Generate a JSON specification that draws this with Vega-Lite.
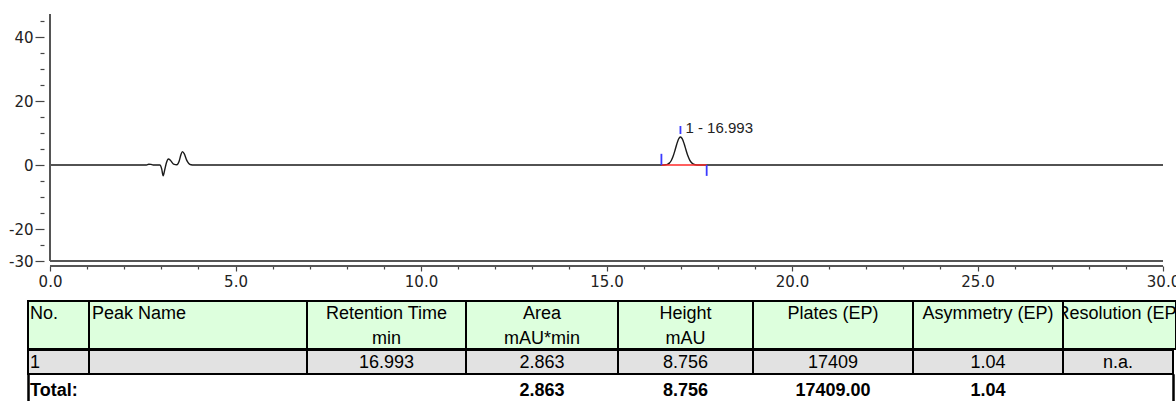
{
  "$schema": "https://vega.github.io/schema/vega-lite/v6.json",
  "padding": {"left": 8, "top": 13, "right": 0, "bottom": 0},
  "background": "white",
  "config": {"view": {"stroke": null}},
  "datasets": {
    "signal": [
      {"t": 0, "mAU": 0}, {"t": 2.6, "mAU": 0}, {"t": 2.66, "mAU": 0.25}, {"t": 2.72, "mAU": 0.2},
      {"t": 2.78, "mAU": 0}, {"t": 2.96, "mAU": 0}, {"t": 3.01, "mAU": -1.2}, {"t": 3.05, "mAU": -3.4},
      {"t": 3.09, "mAU": -1.6}, {"t": 3.14, "mAU": 0.8}, {"t": 3.19, "mAU": 1.9}, {"t": 3.25, "mAU": 1.4},
      {"t": 3.33, "mAU": 0.3}, {"t": 3.42, "mAU": 0.1}, {"t": 3.48, "mAU": 1.2}, {"t": 3.53, "mAU": 3.3},
      {"t": 3.57, "mAU": 4.2}, {"t": 3.62, "mAU": 3.5}, {"t": 3.68, "mAU": 1.6}, {"t": 3.74, "mAU": 0.5},
      {"t": 3.8, "mAU": 0.1}, {"t": 3.88, "mAU": 0}, {"t": 16.4, "mAU": 0}, {"t": 16.493, "mAU": 0.005},
      {"t": 16.593, "mAU": 0.07}, {"t": 16.643, "mAU": 0.22}, {"t": 16.693, "mAU": 0.59}, {"t": 16.743, "mAU": 1.34},
      {"t": 16.793, "mAU": 2.64}, {"t": 16.843, "mAU": 4.45}, {"t": 16.893, "mAU": 6.49}, {"t": 16.943, "mAU": 8.12},
      {"t": 16.993, "mAU": 8.756}, {"t": 17.043, "mAU": 8.17}, {"t": 17.093, "mAU": 6.63}, {"t": 17.143, "mAU": 4.68},
      {"t": 17.193, "mAU": 2.87}, {"t": 17.243, "mAU": 1.54}, {"t": 17.293, "mAU": 0.71}, {"t": 17.343, "mAU": 0.29},
      {"t": 17.393, "mAU": 0.1}, {"t": 17.493, "mAU": 0.01}, {"t": 17.6, "mAU": 0}, {"t": 30, "mAU": 0}
    ],
    "frame": [{"t": 0, "t2": 30, "bottom": -30, "axisLine": -31.5625}],
    "baseline": [{"t": 16.48, "t2": 17.7, "mAU": 0}],
    "delimiters": [
      {"t": 16.48, "mAU": 0, "mAU2": 3.5},
      {"t": 16.993, "mAU": 9.7, "mAU2": 12.2},
      {"t": 17.7, "mAU": -3.4, "mAU2": 0}
    ],
    "peaks": [{"t": 16.993, "mAU": 11.7, "label": "1 - 16.993"}],
    "header": [
      {"col": "no", "text": "No.\n"},
      {"col": "name", "text": "Peak Name\n"},
      {"col": "rt", "text": "Retention Time\nmin"},
      {"col": "area", "text": "Area\nmAU*min"},
      {"col": "height", "text": "Height\nmAU"},
      {"col": "plates", "text": "Plates (EP)\n"},
      {"col": "asym", "text": "Asymmetry (EP)\n"},
      {"col": "res", "text": "Resolution (EP)\n"}
    ],
    "row1": [
      {"col": "no", "text": "1"},
      {"col": "name", "text": ""},
      {"col": "rt", "text": "16.993"},
      {"col": "area", "text": "2.863"},
      {"col": "height", "text": "8.756"},
      {"col": "plates", "text": "17409"},
      {"col": "asym", "text": "1.04"},
      {"col": "res", "text": "n.a."}
    ],
    "total": [
      {"col": "no", "text": "Total:"},
      {"col": "area", "text": "2.863"},
      {"col": "height", "text": "8.756"},
      {"col": "plates", "text": "17409.00"},
      {"col": "asym", "text": "1.04"}
    ]
  },
  "spacing": 11,
  "vconcat": [
    {
      "width": 1135,
      "height": 247,
      "layer": [
        {
          "data": {"name": "signal"},
          "mark": {"type": "line", "color": "#1a1a1a", "strokeWidth": 1.4, "interpolate": "monotone"},
          "encoding": {
            "x": {
              "field": "t", "type": "quantitative",
              "scale": {"domain": [-0.5933, 30], "nice": false, "zero": false},
              "axis": {
                "title": null, "grid": false, "offset": 5, "domain": false, "tickCount": 100,
                "values": [0,1,2,3,4,5,6,7,8,9,10,11,12,13,14,15,16,17,18,19,20,21,22,23,24,25,26,27,28,29,30],
                "labelExpr": "datum.value % 5 === 0 ? format(datum.value, '.1f') : ''",
                "tickSize": {"condition": {"test": "datum.value % 5 === 0", "value": 5}, "value": 3},
                "tickColor": "#444", "tickWidth": 1.2,
                "labelFont": "DejaVu Sans", "labelFontSize": 15, "labelColor": "#222", "labelPadding": 3,
                "labelOverlap": false, "labelFlush": false, "labelBound": false
              }
            },
            "y": {
              "field": "mAU", "type": "quantitative",
              "scale": {"domain": [-30, 47.2], "nice": false, "zero": false},
              "axis": {
                "title": null, "grid": false, "offset": -16, "domain": false, "tickCount": 100,
                "values": [-30,-25,-20,-15,-10,-5,0,5,10,15,20,25,30,35,40,45],
                "labelExpr": "indexof([-30,-20,0,20,40], datum.value) >= 0 ? (datum.value < 0 ? '-' : '') + abs(datum.value) : ''",
                "tickSize": {"condition": {"test": "indexof([-30,-20,0,20,40], datum.value) >= 0", "value": 9}, "value": 4},
                "tickColor": "#444", "tickWidth": 1.2,
                "labelFont": "DejaVu Sans", "labelFontSize": 15, "labelColor": "#222", "labelPadding": 2,
                "labelOverlap": false, "labelFlush": false, "labelBound": false
              }
            }
          }
        },
        {
          "data": {"name": "frame"},
          "mark": {"type": "rule", "color": "#555", "strokeWidth": 2},
          "encoding": {
            "x": {"field": "t", "type": "quantitative"},
            "x2": {"field": "t2"},
            "y": {"field": "bottom", "type": "quantitative"}
          }
        },
        {
          "data": {"name": "frame"},
          "mark": {"type": "rule", "color": "#555", "strokeWidth": 2},
          "encoding": {
            "x": {"field": "t", "type": "quantitative"},
            "x2": {"field": "t2"},
            "y": {"field": "axisLine", "type": "quantitative"}
          }
        },
        {
          "data": {"name": "frame"},
          "mark": {"type": "rule", "color": "#555", "strokeWidth": 2},
          "encoding": {"x": {"field": "t", "type": "quantitative"}}
        },
        {
          "data": {"name": "baseline"},
          "mark": {"type": "rule", "color": "#ff2a2a", "strokeWidth": 1.6},
          "encoding": {
            "x": {"field": "t", "type": "quantitative"},
            "x2": {"field": "t2"},
            "y": {"field": "mAU", "type": "quantitative"}
          }
        },
        {
          "data": {"name": "delimiters"},
          "mark": {"type": "rule", "color": "#3a3aff", "strokeWidth": 1.8},
          "encoding": {
            "x": {"field": "t", "type": "quantitative"},
            "y": {"field": "mAU", "type": "quantitative"},
            "y2": {"field": "mAU2"}
          }
        },
        {
          "data": {"name": "peaks"},
          "mark": {"type": "text", "align": "left", "baseline": "middle", "dx": 5, "font": "Liberation Sans", "fontSize": 15, "color": "#222"},
          "encoding": {
            "x": {"field": "t", "type": "quantitative"},
            "y": {"field": "mAU", "type": "quantitative"},
            "text": {"field": "label", "type": "nominal"}
          }
        }
      ]
    },
    {
      "spacing": -2,
      "vconcat": [
        {
          "data": {"name": "header"},
          "spacing": 0,
          "bounds": "flush",
          "hconcat": [
            {"width": 61, "height": 48, "view": {"fill": "#ddffdd", "stroke": "#000", "strokeWidth": 2},
             "transform": [{"filter": "datum.col === 'no'"}],
             "mark": {"type": "text", "font": "Liberation Sans", "fontSize": 18, "lineBreak": "\n", "lineHeight": 25, "baseline": "middle", "dy": -11, "align": "left", "dx": 2, "color": "#000"},
             "encoding": {"text": {"field": "text", "type": "nominal"}, "x": {"datum": 0, "type": "quantitative", "scale": {"domain": [0, 1]}, "axis": null}}},
            {"width": 218, "height": 48, "view": {"fill": "#ddffdd", "stroke": "#000", "strokeWidth": 2},
             "transform": [{"filter": "datum.col === 'name'"}],
             "mark": {"type": "text", "font": "Liberation Sans", "fontSize": 18, "lineBreak": "\n", "lineHeight": 25, "baseline": "middle", "dy": -11, "align": "left", "dx": 3, "color": "#000"},
             "encoding": {"text": {"field": "text", "type": "nominal"}, "x": {"datum": 0, "type": "quantitative", "scale": {"domain": [0, 1]}, "axis": null}}},
            {"width": 159, "height": 48, "view": {"fill": "#ddffdd", "stroke": "#000", "strokeWidth": 2},
             "transform": [{"filter": "datum.col === 'rt'"}],
             "mark": {"type": "text", "font": "Liberation Sans", "fontSize": 18, "lineBreak": "\n", "lineHeight": 25, "baseline": "middle", "dy": -11, "color": "#000"},
             "encoding": {"text": {"field": "text", "type": "nominal"}}},
            {"width": 152, "height": 48, "view": {"fill": "#ddffdd", "stroke": "#000", "strokeWidth": 2},
             "transform": [{"filter": "datum.col === 'area'"}],
             "mark": {"type": "text", "font": "Liberation Sans", "fontSize": 18, "lineBreak": "\n", "lineHeight": 25, "baseline": "middle", "dy": -11, "color": "#000"},
             "encoding": {"text": {"field": "text", "type": "nominal"}}},
            {"width": 135, "height": 48, "view": {"fill": "#ddffdd", "stroke": "#000", "strokeWidth": 2},
             "transform": [{"filter": "datum.col === 'height'"}],
             "mark": {"type": "text", "font": "Liberation Sans", "fontSize": 18, "lineBreak": "\n", "lineHeight": 25, "baseline": "middle", "dy": -11, "color": "#000"},
             "encoding": {"text": {"field": "text", "type": "nominal"}}},
            {"width": 160, "height": 48, "view": {"fill": "#ddffdd", "stroke": "#000", "strokeWidth": 2},
             "transform": [{"filter": "datum.col === 'plates'"}],
             "mark": {"type": "text", "font": "Liberation Sans", "fontSize": 18, "lineBreak": "\n", "lineHeight": 25, "baseline": "middle", "dy": -11, "color": "#000"},
             "encoding": {"text": {"field": "text", "type": "nominal"}}},
            {"width": 150, "height": 48, "view": {"fill": "#ddffdd", "stroke": "#000", "strokeWidth": 2},
             "transform": [{"filter": "datum.col === 'asym'"}],
             "mark": {"type": "text", "font": "Liberation Sans", "fontSize": 18, "lineBreak": "\n", "lineHeight": 25, "baseline": "middle", "dy": -11, "color": "#000"},
             "encoding": {"text": {"field": "text", "type": "nominal"}}},
            {"width": 113, "height": 48, "view": {"fill": "#ddffdd", "stroke": "#000", "strokeWidth": 2},
             "transform": [{"filter": "datum.col === 'res'"}],
             "mark": {"type": "text", "font": "Liberation Sans", "fontSize": 18, "lineBreak": "\n", "lineHeight": 25, "baseline": "middle", "dy": -11, "color": "#000", "clip": true},
             "encoding": {"text": {"field": "text", "type": "nominal"}}}
          ]
        },
        {
          "data": {"name": "row1"},
          "spacing": 0,
          "bounds": "flush",
          "hconcat": [
            {"width": 61, "height": 24, "view": {"fill": "#e2e2e2", "stroke": "#000", "strokeWidth": 2},
             "transform": [{"filter": "datum.col === 'no'"}],
             "mark": {"type": "text", "font": "Liberation Sans", "fontSize": 18, "baseline": "middle", "dy": 1, "align": "left", "dx": 2, "color": "#000"},
             "encoding": {"text": {"field": "text", "type": "nominal"}, "x": {"datum": 0, "type": "quantitative", "scale": {"domain": [0, 1]}, "axis": null}}},
            {"width": 218, "height": 24, "view": {"fill": "#e2e2e2", "stroke": "#000", "strokeWidth": 2},
             "transform": [{"filter": "datum.col === 'name'"}],
             "mark": {"type": "text", "font": "Liberation Sans", "fontSize": 18, "baseline": "middle", "dy": 1, "align": "left", "dx": 3, "color": "#000"},
             "encoding": {"text": {"field": "text", "type": "nominal"}, "x": {"datum": 0, "type": "quantitative", "scale": {"domain": [0, 1]}, "axis": null}}},
            {"width": 159, "height": 24, "view": {"fill": "#e2e2e2", "stroke": "#000", "strokeWidth": 2},
             "transform": [{"filter": "datum.col === 'rt'"}],
             "mark": {"type": "text", "font": "Liberation Sans", "fontSize": 18, "baseline": "middle", "dy": 1, "color": "#000"},
             "encoding": {"text": {"field": "text", "type": "nominal"}}},
            {"width": 152, "height": 24, "view": {"fill": "#e2e2e2", "stroke": "#000", "strokeWidth": 2},
             "transform": [{"filter": "datum.col === 'area'"}],
             "mark": {"type": "text", "font": "Liberation Sans", "fontSize": 18, "baseline": "middle", "dy": 1, "color": "#000"},
             "encoding": {"text": {"field": "text", "type": "nominal"}}},
            {"width": 135, "height": 24, "view": {"fill": "#e2e2e2", "stroke": "#000", "strokeWidth": 2},
             "transform": [{"filter": "datum.col === 'height'"}],
             "mark": {"type": "text", "font": "Liberation Sans", "fontSize": 18, "baseline": "middle", "dy": 1, "color": "#000"},
             "encoding": {"text": {"field": "text", "type": "nominal"}}},
            {"width": 160, "height": 24, "view": {"fill": "#e2e2e2", "stroke": "#000", "strokeWidth": 2},
             "transform": [{"filter": "datum.col === 'plates'"}],
             "mark": {"type": "text", "font": "Liberation Sans", "fontSize": 18, "baseline": "middle", "dy": 1, "color": "#000"},
             "encoding": {"text": {"field": "text", "type": "nominal"}}},
            {"width": 150, "height": 24, "view": {"fill": "#e2e2e2", "stroke": "#000", "strokeWidth": 2},
             "transform": [{"filter": "datum.col === 'asym'"}],
             "mark": {"type": "text", "font": "Liberation Sans", "fontSize": 18, "baseline": "middle", "dy": 1, "color": "#000"},
             "encoding": {"text": {"field": "text", "type": "nominal"}}},
            {"width": 110, "height": 24, "view": {"fill": "#e2e2e2", "stroke": "#000", "strokeWidth": 2},
             "transform": [{"filter": "datum.col === 'res'"}],
             "mark": {"type": "text", "font": "Liberation Sans", "fontSize": 18, "baseline": "middle", "dy": 1, "color": "#000"},
             "encoding": {"text": {"field": "text", "type": "nominal"}}}
          ]
        },
        {
          "data": {"name": "total"},
          "spacing": 0,
          "bounds": "flush",
          "hconcat": [
            {"width": 1, "height": 31, "view": {"stroke": "#000", "strokeWidth": 1.5}, "data": {"values": []}, "mark": "text"},
            {"width": 60, "height": 31,
             "transform": [{"filter": "datum.col === 'no'"}],
             "mark": {"type": "text", "font": "Liberation Sans", "fontSize": 18, "fontWeight": "bold", "baseline": "middle", "align": "left", "dx": 1, "color": "#000"},
             "encoding": {"text": {"field": "text", "type": "nominal"}, "x": {"datum": 0, "type": "quantitative", "scale": {"domain": [0, 1]}, "axis": null}}},
            {"width": 218, "height": 31, "data": {"values": []}, "mark": "text"},
            {"width": 159, "height": 31, "data": {"values": []}, "mark": "text"},
            {"width": 152, "height": 31,
             "transform": [{"filter": "datum.col === 'area'"}],
             "mark": {"type": "text", "font": "Liberation Sans", "fontSize": 18, "fontWeight": "bold", "baseline": "middle", "color": "#000"},
             "encoding": {"text": {"field": "text", "type": "nominal"}}},
            {"width": 135, "height": 31,
             "transform": [{"filter": "datum.col === 'height'"}],
             "mark": {"type": "text", "font": "Liberation Sans", "fontSize": 18, "fontWeight": "bold", "baseline": "middle", "color": "#000"},
             "encoding": {"text": {"field": "text", "type": "nominal"}}},
            {"width": 160, "height": 31,
             "transform": [{"filter": "datum.col === 'plates'"}],
             "mark": {"type": "text", "font": "Liberation Sans", "fontSize": 18, "fontWeight": "bold", "baseline": "middle", "color": "#000"},
             "encoding": {"text": {"field": "text", "type": "nominal"}}},
            {"width": 150, "height": 31,
             "transform": [{"filter": "datum.col === 'asym'"}],
             "mark": {"type": "text", "font": "Liberation Sans", "fontSize": 18, "fontWeight": "bold", "baseline": "middle", "color": "#000"},
             "encoding": {"text": {"field": "text", "type": "nominal"}}},
            {"width": 110, "height": 31, "data": {"values": []}, "mark": "text"},
            {"width": 1, "height": 31, "view": {"stroke": "#000", "strokeWidth": 1.5}, "data": {"values": []}, "mark": "text"}
          ]
        }
      ]
    }
  ]
}
